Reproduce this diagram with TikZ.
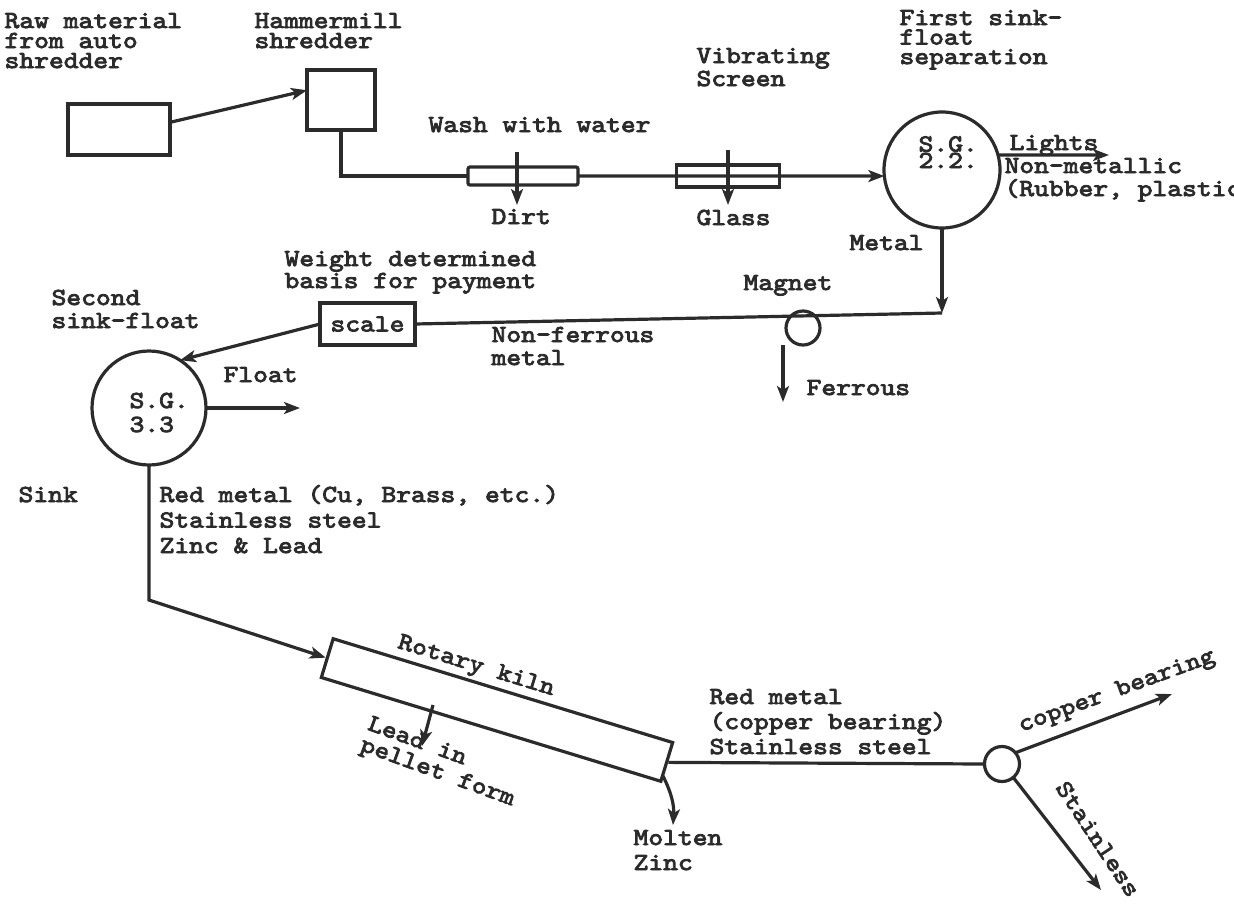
\documentclass[tikz,border=0pt]{standalone}
\usepackage{fontspec}
\usetikzlibrary{arrows.meta,shapes,calc}
\newfontfamily\typew[FakeStretch=1.15,FakeBold=3.5]{lmmono10-regular.otf}
\definecolor{ink}{HTML}{2B2B2B}

\begin{document}
\begin{tikzpicture}[x=1pt,y=-1pt,ink,line width=3.2pt,
  txt/.style={font=\typew\fontsize{24.5}{#1}\selectfont,text=ink,inner sep=0,align=left,anchor=base west},
  txt/.default=21,
  box/.style={draw,inner sep=0,outer sep=0,fill=white},
  sg/.style={circle,draw,inner sep=0,outer sep=0},
  flow/.style={-{Stealth[length=16pt,width=12pt,inset=4pt]}}]

  \useasboundingbox (0,0) rectangle (1234,903);

  % boxes and separators
  \node [box, minimum width=102, minimum height=51] (raw) at (119,129.5) {};
  \node [box, minimum width=68, minimum height=60] (mill) at (341,100) {};
  \node [box, minimum width=110, minimum height=18, rounded corners=2pt] (wash) at (523,176) {};
  \node [draw, inner sep=0, minimum width=103, minimum height=22] (screen) at (728,176) {};
  \node [sg, minimum size=116] (sgA) at (942,170) {};
  \node [sg, minimum size=34] (magnet) at (803,328) {};
  \node [box, minimum width=95, minimum height=42, font=\typew\fontsize{24.5}{21}\selectfont] (scale) at (367.5,324) {scale};
  \node [sg, minimum size=114] (sgB) at (149,408) {};
  \node [draw, inner sep=0, minimum width=355, minimum height=40.5, rotate=-17] (kiln) at (497,710) {};
  \node [sg, minimum size=35] (split) at (1002,764) {};

  % labels (base = last line)
  \node [txt=20] (rawlbl) at (3,68) {Raw material\\from auto\\shredder};
  \node [txt=20] (milllbl) at (253,48) {Hammermill\\shredder};
  \node [txt] (washlbl) at (427,132) {Wash with water};
  \node [txt] (dirtlbl) at (490,224) {Dirt};
  \node [txt=23] (vibrlbl) at (695,86) {Vibrating\\Screen};
  \node [txt] (glasslbl) at (695,225) {Glass};
  \node [txt=19.5] (firstlbl) at (898,64) {First sink-\\float\\separation};
  \node [txt=16.5] (sgAlbl) at (917,168) {S.G.\\2.2.};
  \node [txt] (lightslbl) at (1008,150) {Lights};
  \node [txt=23] (nonmetlbl) at (1003,196) {Non-metallic\\(Rubber, plastic};
  \node [txt] (metallbl) at (848,250) {Metal};
  \node [txt] (magnetlbl) at (742,290) {Magnet};
  \node [txt] (ferrlbl) at (805,395) {Ferrous};
  \node [txt=23] (nonferrlbl) at (490,365) {Non-ferrous\\metal};
  \node [txt=22] (weightlbl) at (283,288) {Weight determined\\basis for payment};
  \node [txt=23] (secondlbl) at (50,328) {Second\\sink-float};
  \node [txt=24] (sgBlbl) at (128,432) {S.G.\\3.3};
  \node [txt] (floatlbl) at (222,382) {Float};
  \node [txt] (sinklbl) at (17,502) {Sink};
  \node [txt=25.5] (mixlbl) at (158,553) {Red metal (Cu, Brass, etc.)\\Stainless steel\\Zinc \& Lead};
  \node [txt, rotate=-17, anchor=center] (kilnlbl) at (476,667) {Rotary kiln};
  \node [txt=22, rotate=-20, anchor=center] (leadlbl) at (441,763) {Lead in\\pellet form};
  \node [txt=25] (zinclbl) at (632,870) {Molten\\Zinc};
  \node [txt=25] (redlbl) at (708,754) {Red metal\\(copper bearing)\\Stainless steel};
  \node [txt, rotate=20, anchor=center] (copperlbl) at (1117,692) {copper bearing};
  \node [txt, rotate=-56.5, anchor=center] (stainlbl) at (1098,839) {Stainless};

  % free ends
  \coordinate (dirtA) at (517,152);   \coordinate (dirtB) at (517,205);
  \coordinate (glassA) at (728,150);  \coordinate (glassB) at (728,205);
  \coordinate (lightsend) at (1109,155);
  \coordinate (metalcorner) at (942,313);
  \coordinate (ferrA) at (783,345);   \coordinate (ferrB) at (783,402);
  \coordinate (floatend) at (300,408);
  \coordinate (sinkbend) at (149,600);
  \coordinate (leadA) at (433,705);   \coordinate (leadB) at (422,746);
  \coordinate (zincA) at (663,776);   \coordinate (zincB) at (673,825);
  \coordinate (copperend) at (1172,694);
  \coordinate (stainend) at (1101,890);

  % flow
  \draw [flow] (raw.8) -- (mill.164);
  \draw (mill.south) |- (wash.west);
  \draw [flow] (wash.east) -- (sgA.186);
  \draw [flow] (dirtA) -- (dirtB);
  \draw [flow] (glassA) -- (glassB);
  \draw [flow] (sgA.15) -- (lightsend);
  \draw [flow] (sgA.south) -- (metalcorner);
  \draw (metalcorner) -- (scale.east);
  \draw [flow] (ferrA) -- (ferrB);
  \draw [flow] (scale.west) -- (sgB.57);
  \draw [flow] (sgB.east) -- (floatend);
  \draw [flow] (sgB.south) -- (sinkbend) -- (kiln.west);
  \draw [flow] (leadA) -- (leadB);
  \draw [flow] (zincA) to[bend left=15] (zincB);
  \draw (kiln.east) -- (split.west);
  \draw [flow] (split.40) -- (copperend);
  \draw [flow] (split.-50) -- (stainend);

\end{tikzpicture}
\end{document}
